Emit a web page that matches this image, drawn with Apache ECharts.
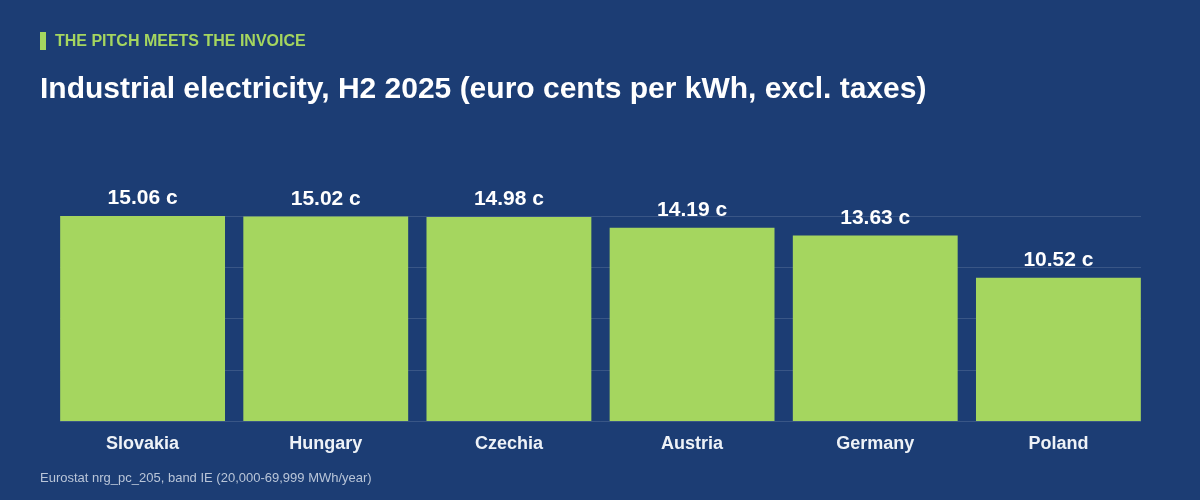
<!DOCTYPE html>
<html>
<head>
<meta charset="utf-8">
<title>Industrial electricity, H2 2025</title>
<script src="https://cdn.jsdelivr.net/npm/echarts@6/dist/echarts.min.js"></script>
<style>
  html, body { margin: 0; padding: 0; background: #1c3d74; }
  #chart { width: 1200px; height: 500px; }
</style>
</head>
<body>
<div id="chart"></div>
<script>
// data
const countries = ['Slovakia', 'Hungary', 'Czechia', 'Austria', 'Germany', 'Poland']
const prices = [15.06, 15.02, 14.98, 14.19, 13.63, 10.52]
const axisMax = 15.06

const FONT = '"Liberation Sans", Arial, Helvetica, sans-serif'
const GREEN = '#a5d65f'

const chart = echarts.init(document.getElementById('chart'))

const option = {
  backgroundColor: '#1c3d74',
  animation: false,
  title: [
    {
      text: 'THE PITCH MEETS THE INVOICE',
      left: 55,
      top: 34,
      padding: 0,
      textStyle: { color: GREEN, fontFamily: FONT, fontSize: 16, fontWeight: 'bold' }
    },
    {
      text: 'Industrial electricity, H2 2025 (euro cents per kWh, excl. taxes)',
      left: 40,
      top: 75,
      padding: 0,
      textStyle: { color: '#ffffff', fontFamily: FONT, fontSize: 30, fontWeight: 'bold' }
    },
    {
      text: 'Eurostat nrg_pc_205, band IE (20,000-69,999 MWh/year)',
      left: 40,
      top: 472,
      padding: 0,
      textStyle: { color: '#b9c5d8', fontFamily: FONT, fontSize: 13, fontWeight: 'normal' }
    }
  ],
  graphic: [
    // 标签前的绿色竖条
    { type: 'rect', left: 40, top: 32, shape: { width: 6, height: 18 }, style: { fill: GREEN } }
  ],
  grid: [
    // 柱子所在网格
    { left: 51, right: 50, top: 216, bottom: 79 },
    // 仅用于网格线
    { left: 60, right: 59, top: 216, bottom: 79 }
  ],
  xAxis: [
    {
      type: 'category',
      gridIndex: 0,
      data: countries,
      axisLine: { show: false },
      axisTick: { show: false },
      axisLabel: {
        color: '#eef2f7',
        fontFamily: FONT,
        fontSize: 18,
        fontWeight: 'bold',
        margin: 14
      }
    },
    {
      type: 'value',
      gridIndex: 1,
      show: false
    }
  ],
  yAxis: [
    {
      type: 'value',
      gridIndex: 0,
      min: 0,
      max: axisMax,
      show: false,
      splitLine: { show: false }
    },
    {
      type: 'value',
      gridIndex: 1,
      min: 0,
      max: axisMax,
      interval: axisMax / 4,
      axisLine: { show: false },
      axisTick: { show: false },
      axisLabel: { show: false },
      splitLine: { show: true, lineStyle: { color: 'rgba(255,255,255,0.13)', width: 1 } }
    }
  ],
  series: [
    {
      type: 'bar',
      xAxisIndex: 0,
      yAxisIndex: 0,
      data: prices,
      barCategoryGap: '10%',
      itemStyle: { color: GREEN },
      label: {
        show: true,
        position: 'top',
        distance: 7,
        color: '#ffffff',
        fontFamily: FONT,
        fontSize: 21,
        fontWeight: 'bold',
        formatter: (p) => p.value.toFixed(2) + ' c'
      },
      z: 3
    }
  ]
}

chart.setOption(option)
</script>
</body>
</html>
